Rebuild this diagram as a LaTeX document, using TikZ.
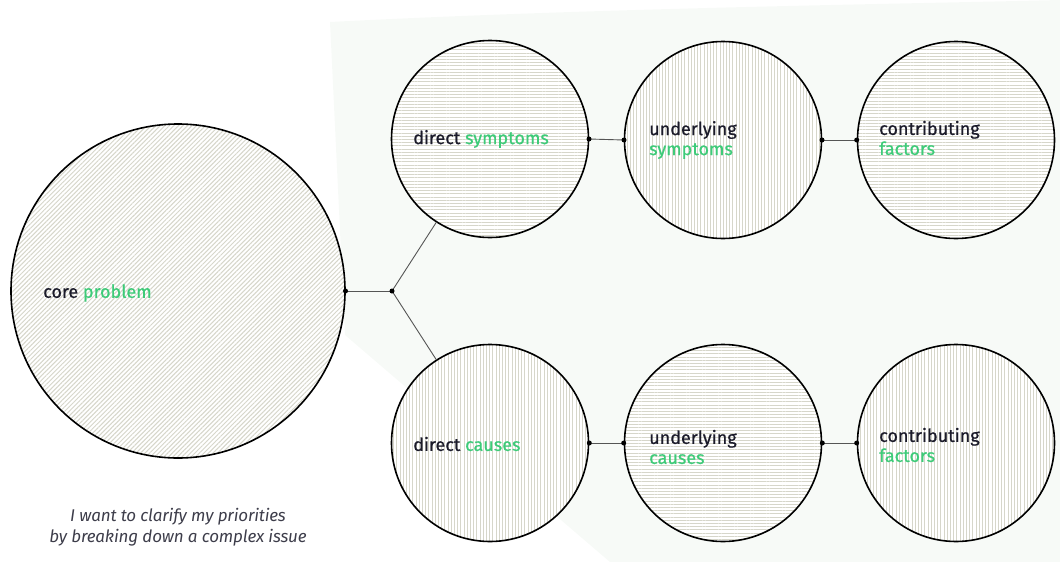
\documentclass[tikz,border=0pt]{standalone}
\usepackage{fontspec}
\setmainfont{Fira Sans}
\usetikzlibrary{patterns.meta}
\definecolor{ink}{HTML}{1B1B2A}
\definecolor{accent}{HTML}{3DCB78}
\definecolor{hatch}{HTML}{D6D6CA}
\definecolor{wire}{HTML}{555555}
\definecolor{tint}{HTML}{F7FAF7}
\tikzset{
  bubble/.style={circle, draw=black, line width=1.6pt, inner sep=0pt,
    minimum size=#1, preaction={fill=white}},
  diag/.style={pattern={Lines[angle=45,distance=3.2pt,line width=1pt]}, pattern color=hatch},
  horiz/.style={pattern={Lines[angle=0,distance=3.2pt,line width=1pt]}, pattern color=hatch},
  vert/.style={pattern={Lines[angle=90,distance=3.2pt,line width=1pt]}, pattern color=hatch},
  label/.style={anchor=west, align=left, inner sep=0pt, text=ink,
    font=\fontsize{18}{20}\selectfont\addfontfeatures{FakeBold=0.6}},
  wireline/.style={draw=wire, line width=0.9pt},
  dot/.style={circle, fill=black, inner sep=0pt, minimum size=5pt},
}
\newcommand{\hl}[1]{\textcolor{accent}{#1}}
\begin{document}
\begin{tikzpicture}[x=1pt,y=-1pt]
  \useasboundingbox (0,0) rectangle (1060,562);
  % faint tinted backdrop behind the chains
  \fill[tint] (330,22) .. controls (600,8) and (900,4) .. (1060,0) -- (1060,562) -- (610,562) -- (345,335) -- cycle;

  % circles
  \node[bubble=334pt, diag] (core) at (178,291) {};
  \node[bubble=197pt, horiz] (ds) at (490,139) {};
  \node[bubble=197pt, vert]  (us) at (723,140) {};
  \node[bubble=197pt, horiz] (cf1) at (956,140) {};
  \node[bubble=197pt, vert]  (dc) at (490,443) {};
  \node[bubble=197pt, horiz] (uc) at (723,443) {};
  \node[bubble=197pt, vert]  (cf2) at (956,443) {};

  % labels
  \node[label] (tcore) at (43,293) {core \hl{problem}};
  \node[label] (tds) at (413,139) {direct \hl{symptoms}};
  \node[label] (tus) at (649,140) {underlying\\\hl{symptoms}};
  \node[label] (tcf1) at (879,138) {contributing\\\hl{factors}};
  \node[label] (tdc) at (413,444) {direct \hl{causes}};
  \node[label] (tuc) at (649,447) {underlying\\\hl{causes}};
  \node[label] (tcf2) at (879,445) {contributing\\\hl{factors}};

  % connectors
  \coordinate (jn) at (392,291);
  \draw[wireline] (core.east) -- (jn);
  \draw[wireline] (jn) -- (ds);
  \draw[wireline] (jn) -- (dc);
  \draw[wireline] (ds.east) -- (us.west);
  \draw[wireline] (us.east) -- (cf1.west);
  \draw[wireline] (dc.east) -- (uc.west);
  \draw[wireline] (uc.east) -- (cf2.west);
  \foreach \p in {core.east, jn, ds.east, us.west, us.east, cf1.west, dc.east, uc.west, uc.east, cf2.west}
    \node[dot] at (\p) {};

  % caption
  \node[align=center, text=ink!85, font=\fontsize{17}{21}\selectfont\itshape\addfontfeatures{LetterSpace=-1}] (cap) at (178,527)
    {I want to clarify my priorities\\by breaking down a complex issue};
\end{tikzpicture}
\end{document}
